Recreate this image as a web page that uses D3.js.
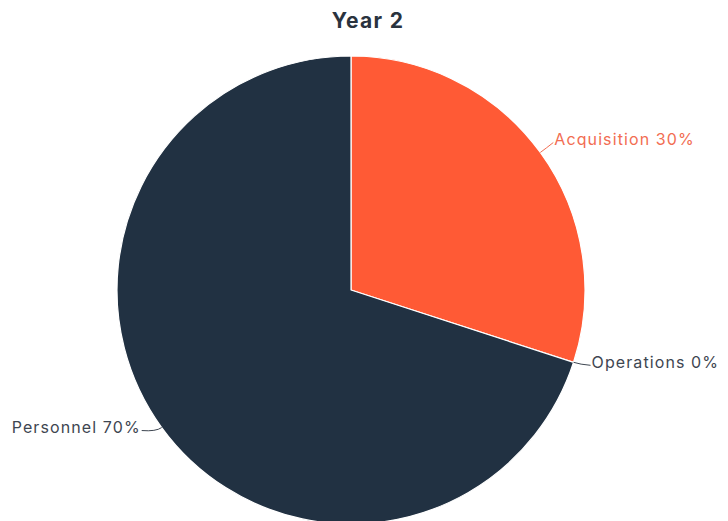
<!DOCTYPE html>
<html>
<head>
<meta charset="utf-8">
<script src="https://cdn.jsdelivr.net/npm/d3@7"></script>
<style>
  html, body { margin: 0; padding: 0; background: #fff; }
  svg { display: block; }
</style>
</head>
<body>
<svg id="chart" width="728" height="521"></svg>
<script>
// Budget split for the second year
const categories = ["Acquisition", "Operations", "Personnel"];
const values = [30, 0, 70];
const colors = ["#ff5a35", "#ff5a35", "#213142"];
const labelColors = ["#f26d52", "#3e4651", "#3e4651"];
const title = "Year 2";

const width = 728, height = 521;
const cx = 351, cy = 290, radius = 234;
const font = "Inter, 'Noto Sans', sans-serif";

const svg = d3.select("#chart");

svg.append("text")
  .attr("x", 368)
  .attr("y", 28)
  .attr("text-anchor", "middle")
  .attr("font-family", font)
  .attr("font-weight", 700)
  .attr("font-size", 21)
  .attr("letter-spacing", 1.3)
  .attr("fill", "#2a333e")
  .text(title);

const data = categories.map((c, i) => ({ name: c, value: values[i], i }));

const pie = d3.pie().sort(null).value(d => d.value);
const arcs = pie(data);
const arc = d3.arc().innerRadius(0).outerRadius(radius);

const g = svg.append("g").attr("transform", `translate(${cx},${cy})`);

g.selectAll("path.slice")
  .data(arcs.filter(a => a.data.value > 0))
  .join("path")
  .attr("class", "slice")
  .attr("d", arc)
  .attr("fill", d => colors[d.data.i])
  .attr("stroke", "#ffffff")
  .attr("stroke-width", 1.2)
  .attr("stroke-linejoin", "round");

// Leader lines and labels
function pointAt(angle, r) {
  return [Math.sin(angle) * r, -Math.cos(angle) * r];
}

arcs.forEach(a => {
  const mid = (a.startAngle + a.endAngle) / 2;
  const right = Math.sin(mid) >= 0;
  const dir = right ? 1 : -1;
  const p0 = pointAt(mid, radius);
  const c = pointAt(mid, radius + 7);
  const reach = right ? (Math.abs(Math.cos(mid)) > 0.5 ? 13 : 17) : 20;
  const end = [p0[0] + dir * reach,
               p0[1] - 22 * Math.max(Math.cos(mid), 0) + 3];
  g.append("path")
    .attr("d", `M${p0[0]},${p0[1]} Q${c[0]},${c[1]} ${end[0]},${end[1]}`)
    .attr("fill", "none")
    .attr("stroke", labelColors[a.data.i])
    .attr("stroke-width", 1);
  g.append("text")
    .attr("x", end[0] + dir * 1)
    .attr("y", end[1] - 3)
    .attr("dy", "0.35em")
    .attr("text-anchor", right ? "start" : "end")
    .attr("font-family", font)
    .attr("font-size", 16)
    .attr("letter-spacing", 1.1)
    .attr("fill", labelColors[a.data.i])
    .text(`${a.data.name} ${a.data.value}%`);
});
</script>
</body>
</html>
